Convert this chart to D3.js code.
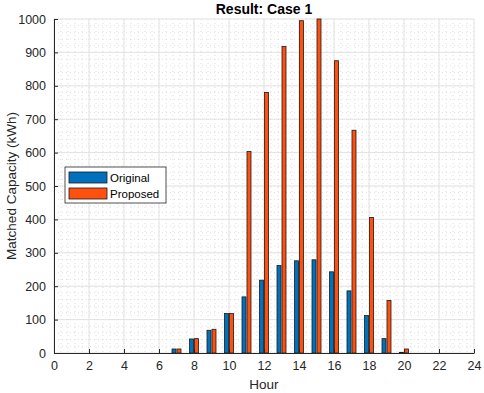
<!DOCTYPE html>
<html>
<head>
<meta charset="utf-8">
<script src="https://cdn.jsdelivr.net/npm/d3@7"></script>
<style>
  body { margin: 0; background: #fff; }
  svg { font-family: "Liberation Sans", Arial, sans-serif; }
  .tick text { fill: #262626; font-size: 12.5px; }
</style>
</head>
<body>
<svg id="chart" width="484" height="393"></svg>
<script>
var hours = [7, 8, 9, 10, 11, 12, 13, 14, 15, 16, 17, 18, 19, 20];
var original = [12, 42, 68, 118, 168, 218, 262, 276, 279, 243, 186, 112, 43, 2];
var proposed = [12, 43, 71, 118, 603, 780, 918, 995, 1000, 875, 667, 406, 157, 12];
var seriesNames = ["Original", "Proposed"];
var xTicks = [0, 2, 4, 6, 8, 10, 12, 14, 16, 18, 20, 22, 24];
var yTicks = [0, 100, 200, 300, 400, 500, 600, 700, 800, 900, 1000];

var svg = d3.select("#chart");
var LEFT = 54, RIGHT = 474, TOP = 19, BOTTOM = 353;
var colors = ["#0072BD", "#FF5010"];

var xscale = d3.scaleLinear().domain([0, 24]).range([LEFT, RIGHT]);
var yscale = d3.scaleLinear().domain([0, 1000]).range([BOTTOM, TOP]);

// minor grid (dotted)
var grid = svg.append("g");
d3.range(0, 24.01, 0.4).forEach(function (v) {
    grid.append("line")
        .attr("x1", xscale(v)).attr("x2", xscale(v))
        .attr("y1", TOP).attr("y2", BOTTOM)
        .attr("stroke", "#dedede").attr("stroke-width", 1)
        .attr("stroke-dasharray", "1,3");
});
d3.range(0, 1000.01, 20).forEach(function (v) {
    grid.append("line")
        .attr("x1", LEFT).attr("x2", RIGHT)
        .attr("y1", yscale(v)).attr("y2", yscale(v))
        .attr("stroke", "#dedede").attr("stroke-width", 1)
        .attr("stroke-dasharray", "1,3");
});
// major grid
xTicks.forEach(function (v) {
    grid.append("line")
        .attr("x1", xscale(v)).attr("x2", xscale(v))
        .attr("y1", TOP).attr("y2", BOTTOM)
        .attr("stroke", "#e3e3e3").attr("stroke-width", 1);
});
yTicks.forEach(function (v) {
    grid.append("line")
        .attr("x1", LEFT).attr("x2", RIGHT)
        .attr("y1", yscale(v)).attr("y2", yscale(v))
        .attr("stroke", "#e3e3e3").attr("stroke-width", 1);
});

// bars, MATLAB style grouped layout
var groupW = 0.571, barW = groupW / 2 * 0.8;
var bars = svg.append("g");
[original, proposed].forEach(function (vals, si) {
    var off = (si === 0 ? -1 : 1) * groupW / 4;
    bars.selectAll(".bar" + si)
        .data(hours.map(function (h, i) { return { h: h, v: vals[i] }; }))
        .enter().append("rect")
        .attr("x", d => xscale(d.h + off - barW / 2))
        .attr("width", d => xscale(d.h + off + barW / 2) - xscale(d.h + off - barW / 2))
        .attr("y", d => yscale(d.v))
        .attr("height", d => yscale(0) - yscale(d.v))
        .attr("fill", colors[si])
        .attr("stroke", "#1a1a1a")
        .attr("stroke-width", 0.8);
});

// axes
var xaxis = d3.axisBottom(xscale).tickValues(xTicks).tickSizeInner(-4).tickSizeOuter(0).tickPadding(8);
var yaxis = d3.axisLeft(yscale).tickValues(yTicks).tickFormat(d3.format("d"))
    .tickSizeInner(-4).tickSizeOuter(0).tickPadding(8);

svg.append("g")
    .attr("transform", "translate(0," + BOTTOM + ")")
    .call(xaxis)
    .call(g => g.selectAll("line, path").attr("stroke", "#262626"));
svg.append("g")
    .attr("transform", "translate(" + LEFT + ",0)")
    .call(yaxis)
    .call(g => g.selectAll("line, path").attr("stroke", "#262626"));

// titles
svg.append("text")
    .attr("x", (LEFT + RIGHT) / 2).attr("y", 14)
    .attr("text-anchor", "middle")
    .attr("font-size", "14px").attr("font-weight", "bold")
    .attr("fill", "#000")
    .text("Result: Case 1");
svg.append("text")
    .attr("x", (LEFT + RIGHT) / 2).attr("y", 389)
    .attr("text-anchor", "middle")
    .attr("font-size", "13.5px").attr("fill", "#262626")
    .text("Hour");
svg.append("text")
    .attr("transform", "rotate(-90)")
    .attr("x", -(TOP + BOTTOM) / 2).attr("y", 16)
    .attr("text-anchor", "middle")
    .attr("font-size", "13.5px").attr("fill", "#262626")
    .text("Matched Capacity (kWh)");

// legend
var legend = svg.append("g").attr("transform", "translate(65,167)");
legend.append("rect")
    .attr("width", 101).attr("height", 36)
    .attr("fill", "#fff").attr("stroke", "#262626").attr("stroke-width", 0.8);
seriesNames.forEach(function (name, i) {
    legend.append("rect")
        .attr("x", 4).attr("y", 5 + i * 16)
        .attr("width", 38).attr("height", 11)
        .attr("fill", colors[i]).attr("stroke", "#1a1a1a").attr("stroke-width", 0.8);
    legend.append("text")
        .attr("x", 45).attr("y", 15 + i * 16)
        .attr("font-size", "11.5px").attr("fill", "#000")
        .text(name);
});
</script>
</body>
</html>
